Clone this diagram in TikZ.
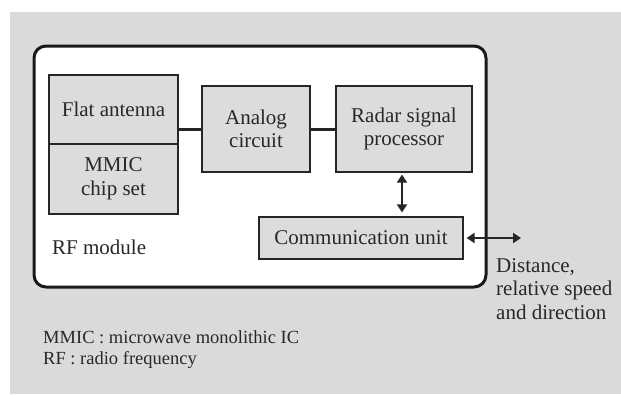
\documentclass[tikz,border=0pt]{standalone}
\usepackage{fontspec}
\setmainfont{Liberation Serif}
\usetikzlibrary{arrows.meta}
\definecolor{bgc}{RGB}{218,218,218}
\definecolor{boxc}{RGB}{220,220,220}
\definecolor{txtc}{RGB}{40,40,40}
\begin{document}
\begin{tikzpicture}[x=1pt,y=-1pt,
  blk/.style={draw=black!85, line width=1.2pt, fill=boxc, text=txtc, align=center,
    font=\fontsize{21}{23.5}\selectfont, inner sep=0pt},
  lbl/.style={text=txtc, inner sep=0pt, align=left},
  link/.style={line width=3pt, draw=black!85},
  dbl/.style={line width=2.2pt, draw=black!85, {Triangle[length=8pt,width=10pt]}-{Triangle[length=8pt,width=10pt]}}
]
\useasboundingbox (0,0) rectangle (621,394);
\fill[bgc] (10,12) rectangle (621,394);
\draw[line width=3pt, rounded corners=12pt, fill=white, draw=black!90] (34,46) rectangle (486,287);

\node[blk, minimum width=129pt, minimum height=69pt] (flat) at (113.5,109.5) {Flat antenna};
\node[blk, minimum width=129pt, minimum height=70pt] (mmic) at (113.5,179) {MMIC\\chip set};
\node[blk, minimum width=108pt, minimum height=86pt] (analog) at (256,129) {Analog\\circuit};
\node[blk, minimum width=136pt, minimum height=86pt] (radar) at (404,129) {Radar signal\\processor};
\node[blk, minimum width=204pt, minimum height=42pt] (comm) at (361,238) {Communication unit};

\coordinate (out) at (521,238);

\draw[link] (flat.east |- analog.west) -- (analog.west);
\draw[link] (analog.east) -- (radar.west);
\draw[dbl, shorten <=2pt, shorten >=4pt] ([xshift=-2pt]radar.south) -- ([xshift=-2pt]radar.south |- comm.north);
\draw[dbl, shorten <=3pt] (comm.east) -- (out);

\node[lbl, anchor=west, font=\fontsize{21}{23.5}\selectfont] (rf) at (52,247) {RF module};
\node[lbl, anchor=west, font=\fontsize{21}{23.5}\selectfont] (dist) at (496,289) {Distance,\\relative speed\\and direction};
\node[lbl, anchor=west, font=\fontsize{18.5}{21}\selectfont] (foot) at (43,350) {MMIC : microwave monolithic IC\\RF : radio frequency};
\end{tikzpicture}
\end{document}
